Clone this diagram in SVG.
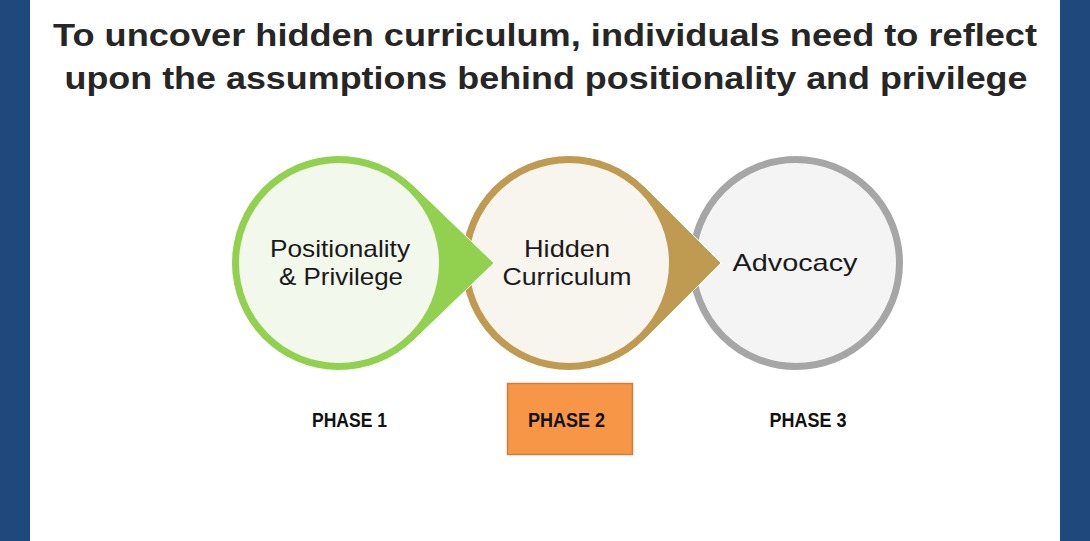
<svg xmlns="http://www.w3.org/2000/svg" width="1090" height="541" viewBox="0 0 1090 541">
  <style>
    .title { font-family: "Liberation Sans", Arial, sans-serif; font-weight: bold; font-size: 32px; fill: #262626; text-anchor: middle; }
    .lbl { font-family: "Liberation Sans", Arial, sans-serif; font-size: 24px; fill: #1a1a1a; text-anchor: middle; }
    .phase { font-family: "Liberation Sans", Arial, sans-serif; font-weight: bold; font-size: 21px; fill: #111; text-anchor: middle; }
  </style>
  <rect x="0" y="0" width="1090" height="541" fill="#ffffff"/>
  <rect x="0" y="0" width="30" height="541" fill="#1F497D"/>
  <rect x="1060" y="0" width="30" height="541" fill="#1F497D"/>

  <g id="title">
    <text class="title" x="545" y="46" textLength="984" lengthAdjust="spacingAndGlyphs">To uncover hidden curriculum, individuals need to reflect</text>
    <text class="title" x="546" y="89" textLength="963" lengthAdjust="spacingAndGlyphs">upon the assumptions behind positionality and privilege</text>
  </g>

  <g id="node-advocacy">
    <circle cx="796" cy="263" r="103.5" fill="#F4F4F4" stroke="#A6A6A6" stroke-width="7"/>
    <text class="lbl" x="795" y="271" textLength="125" lengthAdjust="spacingAndGlyphs">Advocacy</text>
  </g>

  <g id="node-hidden-curriculum">
    <path d="M 721 263 L 645 187 A 107.5 107.5 0 1 0 645 339 Z" fill="#BF9B52" stroke="#ffffff" stroke-width="1"/>
    <circle cx="569" cy="263" r="100" fill="#F8F4EE"/>
    <text class="lbl" x="567" y="257" textLength="86" lengthAdjust="spacingAndGlyphs">Hidden</text>
    <text class="lbl" x="567" y="285" textLength="129" lengthAdjust="spacingAndGlyphs">Curriculum</text>
  </g>

  <g id="node-positionality">
    <path d="M 494 263 L 413.55 185.56 A 107.5 107.5 0 1 0 413.55 340.44 Z" fill="#92D050" stroke="#ffffff" stroke-width="1"/>
    <circle cx="339" cy="263" r="100" fill="#F2F8EC"/>
    <text class="lbl" x="340" y="257" textLength="140" lengthAdjust="spacingAndGlyphs">Positionality</text>
    <text class="lbl" x="341" y="285" textLength="124" lengthAdjust="spacingAndGlyphs">&amp; Privilege</text>
  </g>

  <g id="connectors"></g>

  <g id="phase1">
    <text class="phase" x="349.5" y="427" textLength="75" lengthAdjust="spacingAndGlyphs">PHASE 1</text>
  </g>
  <g id="phase2">
    <rect x="507.5" y="383.5" width="125" height="71" fill="#F79646" stroke="#C9803F" stroke-width="1.5"/>
    <text class="phase" x="566.5" y="427" textLength="77" lengthAdjust="spacingAndGlyphs">PHASE 2</text>
  </g>
  <g id="phase3">
    <text class="phase" x="808" y="427" textLength="77" lengthAdjust="spacingAndGlyphs">PHASE 3</text>
  </g>
</svg>
